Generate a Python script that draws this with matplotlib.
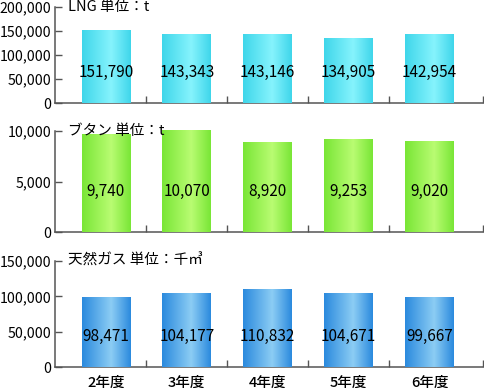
import matplotlib
matplotlib.use("Agg")
import matplotlib.pyplot as plt
import numpy as np
from matplotlib.colors import LinearSegmentedColormap
from matplotlib.ticker import FuncFormatter

plt.rcParams['font.family'] = ['Noto Sans CJK JP', 'DejaVu Sans']

years = ['2年度', '3年度', '4年度', '5年度', '6年度']

lng = [151790, 143343, 143146, 134905, 142954]
butane = [9740, 10070, 8920, 9253, 9020]
gas = [98471, 104177, 110832, 104671, 99667]

titles = ['LNG 単位：t', 'ブタン 単位：t', '天然ガス 単位：千㎥']
yticks = [[0, 50000, 100000, 150000, 200000],
          [0, 5000, 10000],
          [0, 50000, 100000, 150000]]

# edge / highlight colours for the horizontal gradient in each bar
bar_colors = [('#3fd6ea', '#86f3fd'),
              ('#79e636', '#b9fc72'),
              ('#2b8ade', '#8ccdf4')]

# axes boxes in figure fractions, and where the value label sits
boxes = [[0.113, 0.7345, 0.882, 0.2474],
         [0.113, 0.402, 0.882, 0.2603],
         [0.113, 0.0541, 0.882, 0.2732]]
label_y = [0.32, 0.40, 0.29]

fig = plt.figure(figsize=(4.85, 3.88), dpi=100)
x = np.arange(len(years))
xmin, xmax = -0.63, 4.654
spine_col = '#555555'

for k, vals in enumerate([lng, butane, gas]):
    ax = fig.add_axes(boxes[k])
    edge, light = bar_colors[k]
    cmap = LinearSegmentedColormap.from_list(
        'g%d' % k, [(0, edge), (0.6, light), (1, edge)])
    grad = np.linspace(0, 1, 128).reshape(1, -1)
    bars = ax.bar(x, vals, width=0.6, color=edge, zorder=2)
    for b in bars:
        im = ax.imshow(grad, cmap=cmap, aspect='auto', zorder=3,
                       extent=[b.get_x(), b.get_x() + b.get_width(),
                               0, b.get_height()])
        im.set_clip_path(b)
    for i, v in enumerate(vals):
        ax.text(x[i], label_y[k], format(v, ','), ha='center', va='center',
                fontsize=11, transform=ax.get_xaxis_transform(), zorder=4)

    ax.set_xlim(xmin, xmax)
    ax.set_ylim(0, yticks[k][-1])
    ax.set_yticks(yticks[k])
    ax.yaxis.set_major_formatter(FuncFormatter(lambda v, p: format(int(v), ',')))
    ax.set_xticks([0.5, 1.5, 2.5, 3.5, xmax])
    ax.set_xticklabels([])
    ax.tick_params(axis='both', direction='in', length=5, width=1,
                   color=spine_col, labelsize=10.2, pad=2.5)
    ax.tick_params(axis='x', pad=0)
    if k == 2:
        ax.set_xticks(x, minor=True)
        ax.set_xticklabels(years, minor=True, fontweight='medium')
        ax.tick_params(axis='x', which='minor', length=0, pad=6,
                       labelsize=10.5)
    for s in ['top', 'right']:
        ax.spines[s].set_visible(False)
    for s in ['left', 'bottom']:
        ax.spines[s].set_color(spine_col)
        ax.spines[s].set_linewidth(1.1)
    ax.text(0.03, 1.0, titles[k], transform=ax.transAxes, ha='left',
            va='center', fontsize=10.5, zorder=5, clip_on=False)

fig.savefig('out.png', dpi=100)
